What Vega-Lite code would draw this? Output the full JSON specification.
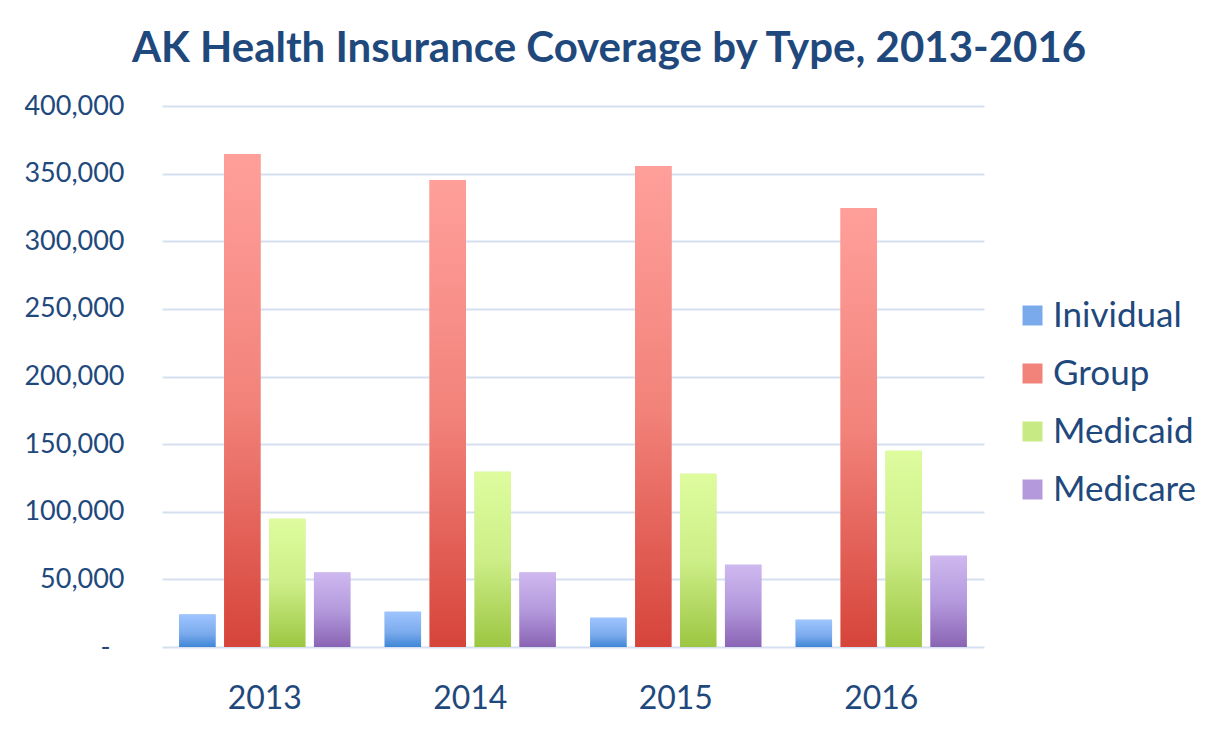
{
  "$schema": "https://vega.github.io/schema/vega-lite/v6.json",
  "autosize": {"type": "none"},
  "width": 822,
  "height": 541,
  "padding": {"left": 162, "top": 106, "right": 232, "bottom": 84},
  "background": "white",
  "title": {
    "text": "AK Health Insurance Coverage by Type, 2013-2016",
    "font": "Lato",
    "fontSize": 42,
    "fontWeight": "bold",
    "color": "#1F497D",
    "anchor": "middle",
    "dx": 36,
    "offset": 21
  },
  "data": {
    "values": [
      {"year": "2013", "type": "Inividual", "value": 24000},
      {"year": "2013", "type": "Group", "value": 364500},
      {"year": "2013", "type": "Medicaid", "value": 94800},
      {"year": "2013", "type": "Medicare", "value": 55000},
      {"year": "2014", "type": "Inividual", "value": 26100},
      {"year": "2014", "type": "Group", "value": 345300},
      {"year": "2014", "type": "Medicaid", "value": 129600},
      {"year": "2014", "type": "Medicare", "value": 55000},
      {"year": "2015", "type": "Inividual", "value": 21700},
      {"year": "2015", "type": "Group", "value": 355700},
      {"year": "2015", "type": "Medicaid", "value": 128100},
      {"year": "2015", "type": "Medicare", "value": 60800},
      {"year": "2016", "type": "Inividual", "value": 20200},
      {"year": "2016", "type": "Group", "value": 324600},
      {"year": "2016", "type": "Medicaid", "value": 145100},
      {"year": "2016", "type": "Medicare", "value": 67500}
    ]
  },
  "encoding": {
    "x": {
      "field": "year",
      "type": "nominal",
      "scale": {"paddingInner": 0.167, "paddingOuter": 0.0835},
      "axis": {
        "title": null,
        "labelAngle": 0,
        "labelFont": "Lato",
        "labelFontSize": 32,
        "labelColor": "#1F497D",
        "labelPadding": 36,
        "ticks": false,
        "domain": false,
        "grid": false
      }
    },
    "xOffset": {
      "field": "type",
      "type": "nominal",
      "sort": ["Inividual", "Group", "Medicaid", "Medicare"],
      "scale": {"paddingInner": 0.19, "paddingOuter": 0}
    },
    "y": {
      "field": "value",
      "type": "quantitative",
      "scale": {"domain": [0, 400000], "nice": false},
      "axis": {
        "title": null,
        "values": [0, 50000, 100000, 150000, 200000, 250000, 300000, 350000, 400000],
        "labelExpr": "datum.value == 0 ? '-' : format(datum.value, ',')",
        "labelFont": "Lato",
        "labelFontSize": 27,
        "labelColor": "#1F497D",
        "labelPadding": {"condition": {"test": "datum.value == 0", "value": 52}, "value": 38},
        "ticks": false,
        "tickSize": 0,
        "domain": false,
        "grid": true,
        "gridColor": "#D5E0F0",
        "gridWidth": 2
      }
    }
  },
  "layer": [
    {
      "mark": {"type": "bar"},
      "encoding": {
        "color": {
          "field": "type",
          "type": "nominal",
          "sort": ["Inividual", "Group", "Medicaid", "Medicare"],
          "scale": {
            "domain": ["Inividual", "Group", "Medicaid", "Medicare"],
            "range": ["#7AAAEC", "#F2837B", "#C8EA84", "#B49ADD"]
          },
          "legend": {
            "title": null,
            "orient": "none",
            "legendX": 853,
            "legendY": 192,
            "symbolType": "square",
            "symbolSize": 400,
            "symbolStrokeWidth": 0,
            "symbolOpacity": 1,
            "labelFont": "Lato",
            "labelFontSize": 35,
            "labelColor": "#1F497D",
            "labelOffset": 3,
            "rowPadding": 22,
            "padding": 0
          }
        }
      }
    },
    {
      "mark": {"type": "bar"},
      "encoding": {
        "fill": {
          "condition": [
            {"test": "datum.type == 'Inividual'", "value": {"gradient": "linear", "x1": 0, "y1": 0, "x2": 0, "y2": 1, "stops": [{"offset": 0, "color": "#9EC5FF"}, {"offset": 0.6, "color": "#7AAAEC"}, {"offset": 1, "color": "#3F86D6"}]}},
            {"test": "datum.type == 'Group'", "value": {"gradient": "linear", "x1": 0, "y1": 0, "x2": 0, "y2": 1, "stops": [{"offset": 0, "color": "#FF9F9A"}, {"offset": 0.5, "color": "#F2837B"}, {"offset": 1, "color": "#D6443A"}]}},
            {"test": "datum.type == 'Medicaid'", "value": {"gradient": "linear", "x1": 0, "y1": 0, "x2": 0, "y2": 1, "stops": [{"offset": 0, "color": "#DEFC9E"}, {"offset": 0.5, "color": "#CDEE88"}, {"offset": 1, "color": "#9CC642"}]}}
          ],
          "value": {"gradient": "linear", "x1": 0, "y1": 0, "x2": 0, "y2": 1, "stops": [{"offset": 0, "color": "#CFB8EF"}, {"offset": 0.5, "color": "#B49ADD"}, {"offset": 1, "color": "#8A64B4"}]}
        },
        "fillOpacity": {"value": 1}
      }
    }
  ],
  "config": {
    "view": {"stroke": null}
  }
}
